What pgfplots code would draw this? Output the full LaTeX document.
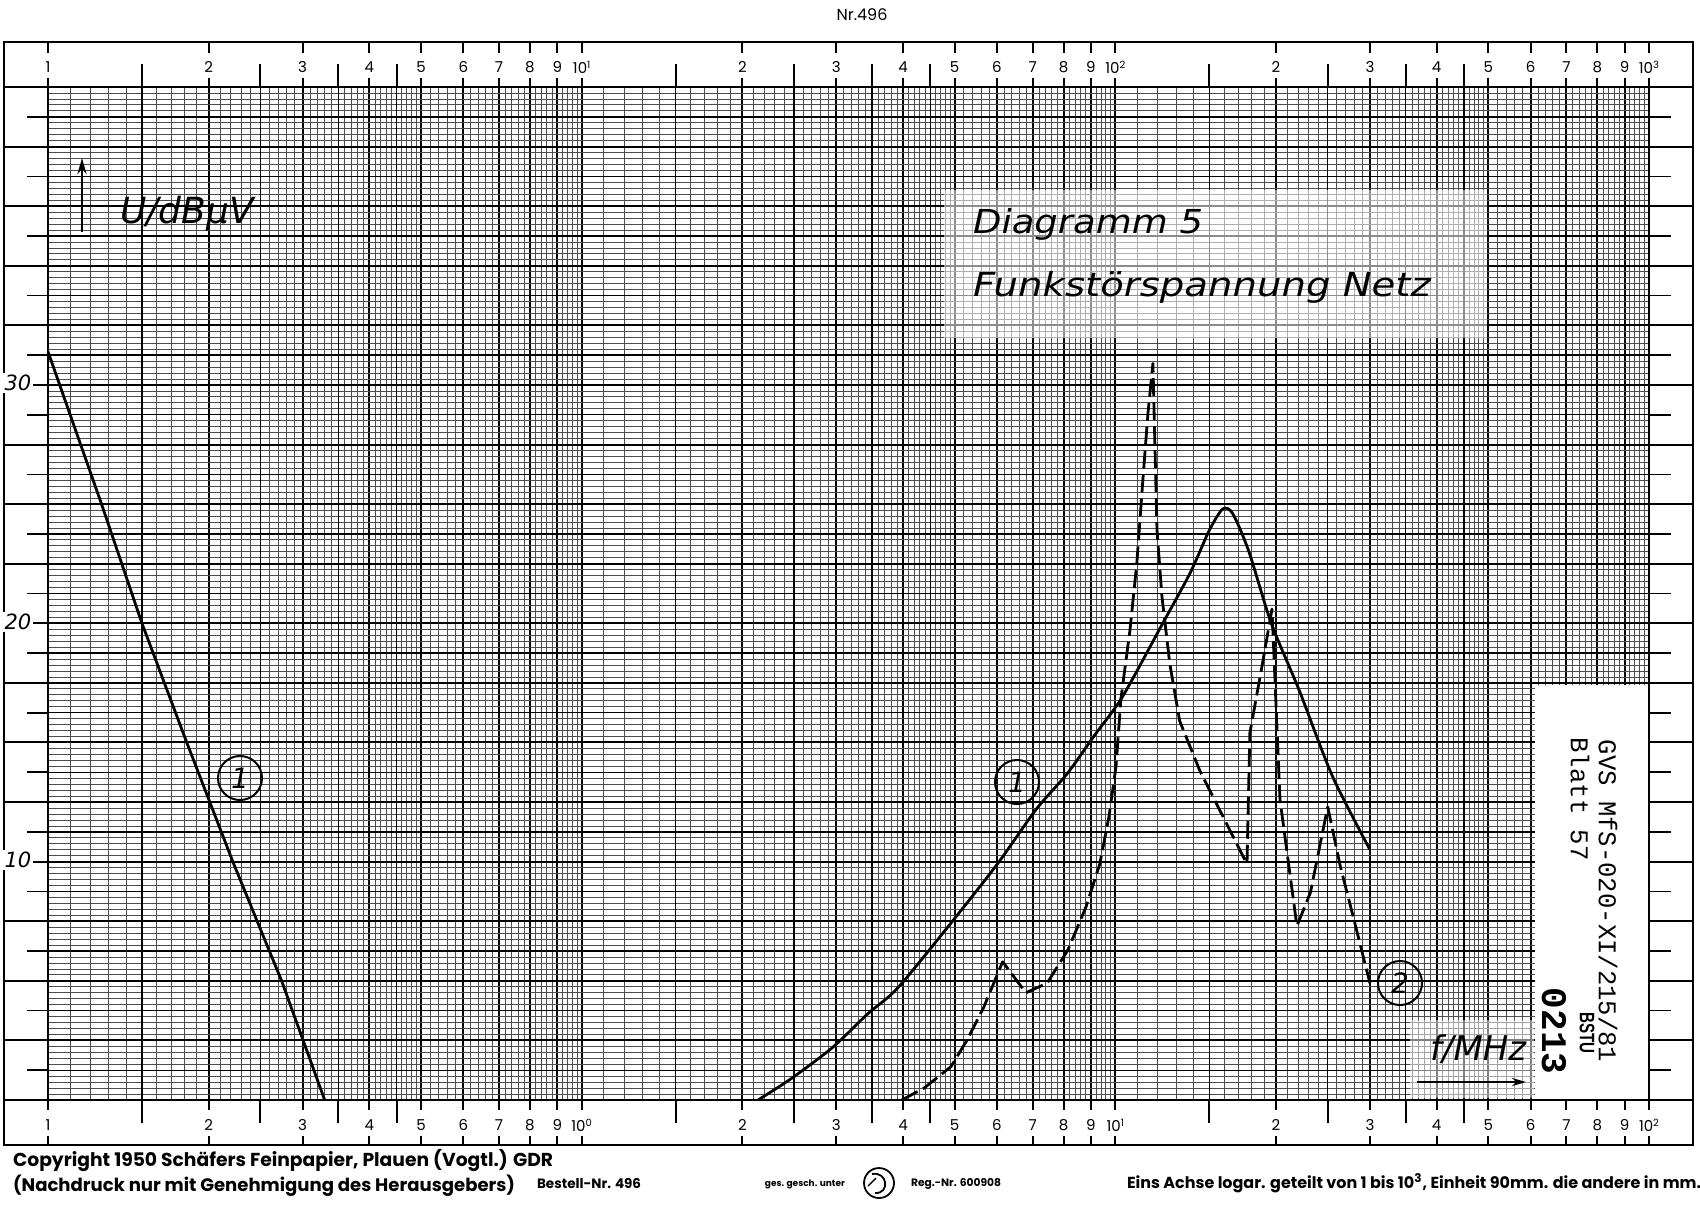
\documentclass[border=0pt]{standalone}
\usepackage{pgfplots}
\pgfplotsset{compat=1.18}
\usepackage{fontspec}
\setmainfont{Poppins}
\newfontfamily\hand{DejaVu Sans}
\newfontfamily\mono{Liberation Mono}
\newfontfamily\sansb{Liberation Sans}
\usetikzlibrary{arrows.meta}
\newcommand\tp[1]{10\raisebox{0.6ex}{\fontsize{5}{5}\selectfont #1}}
\begin{document}
\begin{tikzpicture}
\begin{axis}[
  at={(24pt,-550pt)}, anchor=south west,
  scale only axis, width=800.5pt, height=506.5pt,
  xmode=log, xmin=0.1, xmax=100, ymin=0, ymax=42.5,
  xtick={0.1,0.2,0.3,0.4,0.5,0.6,0.7,0.8,0.9,1,2,3,4,5,6,7,8,9,10,20,30,40,50,60,70,80,90,100},
  minor xtick={0.11,0.12,...,0.2,0.21,0.22,...,0.5,0.52,0.54,...,1,1.1,1.2,...,2,2.1,2.2,...,5,5.2,5.4,...,10,11,12,...,20,21,22,...,50,52,54,...,100},
  extra x ticks={0.15,0.25,0.35,0.45,1.5,2.5,3.5,4.5,15,25,35,45},
  ytick={0,2.5,...,42.5},
  minor ytick={0,0.25,...,42.5},
  extra y ticks={1.25,3.75,...,41.25},
  extra tick style={grid=major, major grid style={black, line width=0.7pt}},
  xticklabels={}, yticklabels={}, extra x tick labels={}, extra y tick labels={},
  major tick length=0pt, minor tick length=0pt,
  grid=both,
  major grid style={black, line width=1pt},
  minor grid style={black!70, line width=0.4pt},
  axis line style={line width=1.3pt},
]
% curve 1, low frequencies
\addplot[black, line width=1.4pt] coordinates {
 (0.1,31.4) (0.126,25.0) (0.150,20.0) (0.182,15.0) (0.222,10.0) (0.274,5.0) (0.330,0)};
% curve 1, high frequencies
\addplot[black, line width=1.4pt, smooth, tension=0.45] coordinates {
 (2.14,0) (2.47,0.9) (2.95,2.2) (3.43,3.6) (3.91,4.7) (4.91,7.4) (6.01,9.9) (7.11,12.2)
 (8.13,13.7) (9.14,15.3) (10.3,16.9) (12.2,19.9) (13.8,22.1) (15.0,23.9) (15.9,24.8)
 (16.6,24.6) (17.8,23.0) (19.6,20.0) (22.1,17.2) (25.5,13.6) (30.0,10.5)};
% curve 2 (dashed)
\addplot[black, line width=1.4pt, dash pattern=on 9pt off 3pt, line join=round] coordinates {
 (3.98,0) (4.38,0.5) (4.92,1.4) (5.27,2.5) (5.67,3.9) (6.15,5.8) (6.80,4.5) (7.45,4.9)
 (8.15,6.3) (8.81,8.1) (9.35,9.9) (9.73,11.9) (10.03,14.0) (10.24,16.8) (10.65,19.7)
 (10.97,22.5) (11.26,26.0) (11.51,28.8) (11.76,30.9) (11.97,23.9) (12.23,21.1) (12.65,18.3)
 (13.2,15.9) (14.41,13.8) (17.65,9.9) (17.87,15.4) (18.83,18.2) (19.66,20.6) (20.35,12.6) (21.89,7.3)
 (23.2,8.7) (25.0,12.3) (26.4,9.8) (27.9,7.7) (30.0,4.9)};
\end{axis}
\begin{scope}[x=0.5pt, y=-0.5pt]
% light patches and stamp box
\fill[white, opacity=0.55] (944,190) rectangle (1487,338);
\fill[white, opacity=0.5] (1410,1020) rectangle (1534,1098);
\fill[white] (1535,685) rectangle (1647.5,1098.5);
% outer frame
\draw[line width=1.3pt] (4,42) rectangle (1693,1145);
% margin marks
\foreach \u in {0,2.5,...,42.5} {
  \draw[line width=1pt] (4,{1100-23.835*\u}) -- (48,{1100-23.835*\u});
  \draw[line width=1pt] (1649,{1100-23.835*\u}) -- (1693,{1100-23.835*\u});
}
\foreach \u in {1.25,3.75,...,41.25} {
  \draw[line width=0.8pt] (27,{1100-23.835*\u}) -- (48,{1100-23.835*\u});
  \draw[line width=0.8pt] (1649,{1100-23.835*\u}) -- (1671,{1100-23.835*\u});
}
% top and bottom scale
\newcommand\lab[3]{%
  \pgfmathsetmacro\xx{48+533.67*log10(#1*10)}
  \draw[line width=0.9pt] (\xx,42) -- (\xx,53);
  \draw[line width=0.9pt] (\xx,78) -- (\xx,87);
  \draw[line width=0.9pt] (\xx,1100) -- (\xx,1110);
  \draw[line width=0.9pt] (\xx,1136) -- (\xx,1145);
  \node[font=\fontsize{7.5}{7.5}\selectfont] at (\xx,67) {#2};
  \node[font=\fontsize{7.5}{7.5}\selectfont] at (\xx,1125) {#3};
}
\lab{0.1}{1}{1}
\foreach \d/\et/\eb in {0.1/1/0, 1/2/1, 10/3/2} {
  \foreach \m in {2,...,9} { \lab{\m*\d}{\m}{\m} }
  \lab{10*\d}{\tp{\et}}{\tp{\eb}}
}
\foreach \d in {0.1,1,10} {
  \foreach \h in {1.5,2.5,3.5,4.5} {
    \pgfmathsetmacro\xx{48+533.67*log10(\h*\d*10)}
    \draw[line width=0.9pt] (\xx,64) -- (\xx,87);
    \draw[line width=0.9pt] (\xx,1100) -- (\xx,1123);
  }
}
% y values
\foreach \v/\yy in {30/383, 20/622, 10/860} {
  \node[fill=white, inner sep=1pt, font=\hand\itshape\fontsize{10.5}{10.5}\selectfont] at (18,\yy) {\v};
}
% axis names
\draw[line width=1.3pt, -{Stealth[length=8pt, width=4.5pt]}] (82,232) -- (82,158);
\node[anchor=base west, font=\hand\itshape\fontsize{18}{18}\selectfont] at (113,223) {U/dBµV};
\node[anchor=base west, font=\hand\itshape\fontsize{17}{17}\selectfont] at (1423,1060) {f/MHz};
\draw[line width=1.2pt, -{Stealth[length=7pt, width=4pt]}] (1417,1082) -- (1526,1082);
% title
\node[anchor=base west, font=\hand\itshape\fontsize{16.5}{16.5}\selectfont] at (966,233) {\scalebox{1.12}[1]{Diagramm 5}};
\node[anchor=base west, font=\hand\itshape\fontsize{16.5}{16.5}\selectfont] at (966,296) {\scalebox{1.17}[1]{Funkstörspannung Netz}};
% curve labels
\node[draw, circle, line width=1pt, minimum size=22pt, inner sep=0pt, font=\hand\itshape\fontsize{14}{14}\selectfont] at (240,778) {1};
\node[draw, circle, line width=1pt, minimum size=22pt, inner sep=0pt, font=\hand\itshape\fontsize{14}{14}\selectfont] at (1017,782) {1};
\node[draw, circle, line width=1pt, minimum size=22pt, inner sep=0pt, font=\hand\itshape\fontsize{14}{14}\selectfont] at (1400,983) {2};
% stamp
\node[rotate=-90, font=\mono\fontsize{12.8}{12.8}\selectfont] at (1608,901) {GVS MfS-020-XI/215/81};
\node[rotate=-90, font=\mono\fontsize{12.8}{12.8}\selectfont] at (1580,799) {Blatt 57};
\node[rotate=-90, font=\sansb\bfseries\fontsize{10.5}{10.5}\selectfont] at (1587,1033) {\scalebox{0.72}[1]{BSTU}};
\node[rotate=-90, font=\mono\bfseries\fontsize{18}{18}\selectfont] at (1554,1031) {0213};
% header and footer
\node[font=\fontsize{8}{8}\selectfont] at (862,15) {Nr.496};
\node[anchor=base west, font=\bfseries\fontsize{8}{8}\selectfont] at (6,1166) {\resizebox{270pt}{!}{Copyright 1950 Schäfers Feinpapier, Plauen (Vogtl.) GDR}};
\node[anchor=base west, font=\bfseries\fontsize{8}{8}\selectfont] at (6,1191) {\resizebox{251pt}{!}{(Nachdruck nur mit Genehmigung des Herausgebers)}};
\node[anchor=base west, font=\bfseries\fontsize{8}{8}\selectfont] at (530,1188) {\resizebox{52pt}{!}{Bestell-Nr. 496}};
\node[anchor=base east, font=\bfseries\fontsize{5}{5}\selectfont] at (852,1186) {\resizebox{40pt}{!}{ges. gesch. unter}};
\draw[line width=0.9pt] (879,1183) circle (15);
\draw[line width=0.9pt] (872,1174) .. controls (888,1171) and (890,1194) .. (875,1193);
\draw[line width=0.7pt] (868,1186) -- (876,1178);
\node[anchor=base west, font=\bfseries\fontsize{5}{5}\selectfont] at (904,1186) {\resizebox{45pt}{!}{Reg.-Nr. 600908}};
\node[anchor=base west, font=\bfseries\fontsize{8}{8}\selectfont] at (1120,1188) {\resizebox{287pt}{!}{Eins Achse logar. geteilt von 1 bis 10\textsuperscript{3}, Einheit 90mm. die andere in mm.}};
\pgfresetboundingbox
\path[use as bounding box] (0,0) rectangle (1700,1207);
\end{scope}
\end{tikzpicture}
\end{document}
